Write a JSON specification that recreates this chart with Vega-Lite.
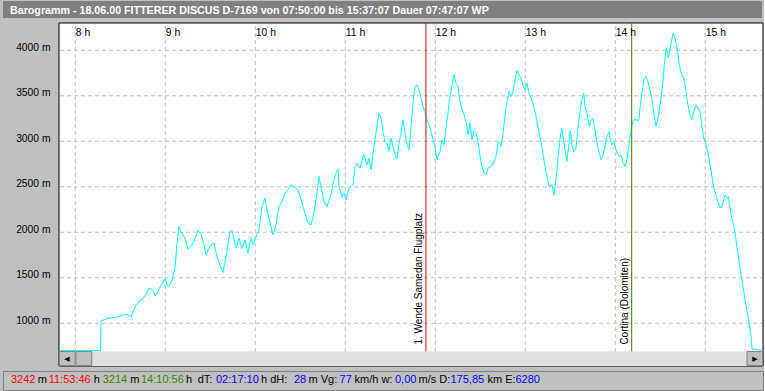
{
  "$schema": "https://vega.github.io/schema/vega-lite/v6.json",
  "padding": {"left": 2, "top": 1, "right": 0, "bottom": 0},
  "spacing": 3,
  "resolve": {"scale": {"color": "independent"}},
  "config": {
    "background": "#c0c0c0",
    "font": "Liberation Sans",
    "view": {"stroke": null}
  },
  "vconcat": [
    {
      "width": 759,
      "height": 17,
      "view": {"fill": "#808080", "stroke": null},
      "data": {"values": [{"title": "Barogramm - 18.06.00 FITTERER DISCUS D-7169 von 07:50:00 bis 15:37:07 Dauer 07:47:07 WP"}]},
      "mark": {"type": "text", "align": "left", "baseline": "middle", "color": "#ffffff", "font": "Liberation Sans", "fontWeight": "bold", "fontSize": 10.7, "dy": 1},
      "encoding": {
        "text": {"field": "title"},
        "x": {"datum": 7, "type": "quantitative", "scale": {"domain": [0, 759], "nice": false, "zero": false}, "axis": null}
      }
    },
    {
      "width": 760,
      "height": 343,
      "view": {"fill": null, "stroke": null},
      "layer": [
        {
          "data": {"values": [{}]},
          "mark": {"type": "rect", "fill": "#ffffff", "stroke": "#000000", "strokeWidth": 1},
          "encoding": {
            "x": {"datum": 7.819, "type": "quantitative", "title": null},
            "x2": {"datum": 15.641},
            "y": {"datum": 530, "type": "quantitative", "title": null},
            "y2": {"datum": 4300}
          }
        },
        {
          "data": {"values": [{"h": 8}, {"h": 9}, {"h": 10}, {"h": 11}, {"h": 12}, {"h": 13}, {"h": 14}, {"h": 15}]},
          "mark": {"type": "rule", "color": "#c0c0c0", "strokeDash": [4, 3], "strokeWidth": 1},
          "encoding": {
            "x": {"field": "h", "type": "quantitative", "title": null},
            "y": {"datum": 530, "type": "quantitative", "title": null},
            "y2": {"datum": 4295}
          }
        },
        {
          "data": {"values": [{"m": 1000}, {"m": 1500}, {"m": 2000}, {"m": 2500}, {"m": 3000}, {"m": 3500}, {"m": 4000}]},
          "mark": {"type": "rule", "color": "#c0c0c0", "strokeDash": [4, 3], "strokeWidth": 1},
          "encoding": {
            "y": {"field": "m", "type": "quantitative", "title": null},
            "x": {"datum": 7.83, "type": "quantitative", "title": null},
            "x2": {"datum": 15.63}
          }
        },
        {
          "data": {"values": [
            {"t": 7.833, "alt": 700}, {"t": 8.280, "alt": 700}, {"t": 8.286, "alt": 1025}, {"t": 8.363, "alt": 1055},
            {"t": 8.463, "alt": 1066}, {"t": 8.563, "alt": 1102}, {"t": 8.619, "alt": 1073}, {"t": 8.674, "alt": 1201},
            {"t": 8.719, "alt": 1249}, {"t": 8.774, "alt": 1300}, {"t": 8.819, "alt": 1385}, {"t": 8.863, "alt": 1366},
            {"t": 8.886, "alt": 1300}, {"t": 8.919, "alt": 1348}, {"t": 8.952, "alt": 1421}, {"t": 8.974, "alt": 1447},
            {"t": 8.997, "alt": 1495}, {"t": 9.019, "alt": 1421}, {"t": 9.041, "alt": 1403}, {"t": 9.074, "alt": 1476},
            {"t": 9.108, "alt": 1605}, {"t": 9.130, "alt": 1880}, {"t": 9.152, "alt": 2063}, {"t": 9.174, "alt": 2008},
            {"t": 9.219, "alt": 1935}, {"t": 9.252, "alt": 1814}, {"t": 9.286, "alt": 1845}, {"t": 9.319, "alt": 1900},
            {"t": 9.363, "alt": 2019}, {"t": 9.397, "alt": 1982}, {"t": 9.430, "alt": 1861}, {"t": 9.452, "alt": 1751},
            {"t": 9.508, "alt": 1861}, {"t": 9.541, "alt": 1880}, {"t": 9.574, "alt": 1733}, {"t": 9.619, "alt": 1605},
            {"t": 9.641, "alt": 1557}, {"t": 9.674, "alt": 1733}, {"t": 9.719, "alt": 2008}, {"t": 9.741, "alt": 2019},
            {"t": 9.786, "alt": 1825}, {"t": 9.819, "alt": 1935}, {"t": 9.852, "alt": 1825}, {"t": 9.886, "alt": 1916},
            {"t": 9.919, "alt": 1770}, {"t": 9.952, "alt": 1935}, {"t": 9.974, "alt": 1861}, {"t": 10.008, "alt": 1953},
            {"t": 10.041, "alt": 2026}, {"t": 10.074, "alt": 2283}, {"t": 10.108, "alt": 2375}, {"t": 10.130, "alt": 2246},
            {"t": 10.174, "alt": 2063}, {"t": 10.197, "alt": 1971}, {"t": 10.230, "alt": 2081}, {"t": 10.263, "alt": 2283},
            {"t": 10.297, "alt": 2338}, {"t": 10.330, "alt": 2430}, {"t": 10.363, "alt": 2466}, {"t": 10.397, "alt": 2521},
            {"t": 10.430, "alt": 2503}, {"t": 10.474, "alt": 2466}, {"t": 10.508, "alt": 2356}, {"t": 10.541, "alt": 2246},
            {"t": 10.585, "alt": 2100}, {"t": 10.619, "alt": 2081}, {"t": 10.652, "alt": 2210}, {"t": 10.685, "alt": 2430},
            {"t": 10.708, "alt": 2613}, {"t": 10.730, "alt": 2500}, {"t": 10.763, "alt": 2338}, {"t": 10.797, "alt": 2283},
            {"t": 10.841, "alt": 2411}, {"t": 10.874, "alt": 2576}, {"t": 10.897, "alt": 2650}, {"t": 10.919, "alt": 2694},
            {"t": 10.930, "alt": 2503}, {"t": 10.963, "alt": 2393}, {"t": 10.985, "alt": 2430}, {"t": 11.008, "alt": 2356},
            {"t": 11.041, "alt": 2485}, {"t": 11.086, "alt": 2521}, {"t": 11.108, "alt": 2723}, {"t": 11.130, "alt": 2760},
            {"t": 11.163, "alt": 2705}, {"t": 11.197, "alt": 2833}, {"t": 11.208, "alt": 2851}, {"t": 11.241, "alt": 2741},
            {"t": 11.263, "alt": 2815}, {"t": 11.286, "alt": 2686}, {"t": 11.308, "alt": 2870}, {"t": 11.330, "alt": 3016},
            {"t": 11.352, "alt": 3163}, {"t": 11.374, "alt": 3310}, {"t": 11.397, "alt": 3255}, {"t": 11.419, "alt": 3108},
            {"t": 11.441, "alt": 2998}, {"t": 11.463, "alt": 2980}, {"t": 11.486, "alt": 2888}, {"t": 11.508, "alt": 3035},
            {"t": 11.530, "alt": 2943}, {"t": 11.552, "alt": 2851}, {"t": 11.574, "alt": 2804}, {"t": 11.597, "alt": 2980},
            {"t": 11.619, "alt": 3090}, {"t": 11.641, "alt": 3236}, {"t": 11.663, "alt": 3090}, {"t": 11.686, "alt": 2961},
            {"t": 11.708, "alt": 2906}, {"t": 11.730, "alt": 3163}, {"t": 11.752, "alt": 3420}, {"t": 11.774, "alt": 3603},
            {"t": 11.797, "alt": 3621}, {"t": 11.819, "alt": 3566}, {"t": 11.841, "alt": 3475}, {"t": 11.863, "alt": 3383},
            {"t": 11.886, "alt": 3328}, {"t": 11.908, "alt": 3236}, {"t": 11.930, "alt": 3181}, {"t": 11.952, "alt": 3110},
            {"t": 11.974, "alt": 3020}, {"t": 11.997, "alt": 2936}, {"t": 12.019, "alt": 2796}, {"t": 12.030, "alt": 2833},
            {"t": 12.052, "alt": 2888}, {"t": 12.074, "alt": 3016}, {"t": 12.096, "alt": 2961}, {"t": 12.119, "alt": 3145},
            {"t": 12.141, "alt": 3310}, {"t": 12.163, "alt": 3493}, {"t": 12.186, "alt": 3621}, {"t": 12.208, "alt": 3731},
            {"t": 12.230, "alt": 3640}, {"t": 12.252, "alt": 3603}, {"t": 12.274, "alt": 3438}, {"t": 12.297, "alt": 3346},
            {"t": 12.319, "alt": 3291}, {"t": 12.341, "alt": 3218}, {"t": 12.363, "alt": 3071}, {"t": 12.386, "alt": 3200},
            {"t": 12.408, "alt": 3016}, {"t": 12.430, "alt": 3119}, {"t": 12.452, "alt": 3097}, {"t": 12.474, "alt": 2998},
            {"t": 12.497, "alt": 2833}, {"t": 12.519, "alt": 2723}, {"t": 12.541, "alt": 2650}, {"t": 12.563, "alt": 2631},
            {"t": 12.586, "alt": 2705}, {"t": 12.619, "alt": 2723}, {"t": 12.652, "alt": 2778}, {"t": 12.674, "alt": 2833},
            {"t": 12.697, "alt": 2998}, {"t": 12.719, "alt": 2980}, {"t": 12.730, "alt": 2943}, {"t": 12.752, "alt": 3090},
            {"t": 12.774, "alt": 3273}, {"t": 12.797, "alt": 3438}, {"t": 12.819, "alt": 3548}, {"t": 12.841, "alt": 3493},
            {"t": 12.863, "alt": 3548}, {"t": 12.886, "alt": 3676}, {"t": 12.908, "alt": 3778}, {"t": 12.930, "alt": 3731},
            {"t": 12.952, "alt": 3695}, {"t": 12.974, "alt": 3621}, {"t": 12.997, "alt": 3566}, {"t": 13.019, "alt": 3640},
            {"t": 13.041, "alt": 3530}, {"t": 13.085, "alt": 3420}, {"t": 13.119, "alt": 3273}, {"t": 13.152, "alt": 3090},
            {"t": 13.174, "alt": 3000}, {"t": 13.197, "alt": 2860}, {"t": 13.219, "alt": 2723}, {"t": 13.241, "alt": 2613},
            {"t": 13.263, "alt": 2503}, {"t": 13.297, "alt": 2521}, {"t": 13.316, "alt": 2411}, {"t": 13.330, "alt": 2503},
            {"t": 13.352, "alt": 2686}, {"t": 13.367, "alt": 2851}, {"t": 13.389, "alt": 3053}, {"t": 13.404, "alt": 3145},
            {"t": 13.416, "alt": 3071}, {"t": 13.441, "alt": 2906}, {"t": 13.463, "alt": 2778}, {"t": 13.489, "alt": 3016},
            {"t": 13.500, "alt": 3119}, {"t": 13.519, "alt": 2961}, {"t": 13.538, "alt": 2888}, {"t": 13.563, "alt": 2925},
            {"t": 13.582, "alt": 3126}, {"t": 13.611, "alt": 3346}, {"t": 13.627, "alt": 3456}, {"t": 13.649, "alt": 3530},
            {"t": 13.663, "alt": 3383}, {"t": 13.686, "alt": 3310}, {"t": 13.711, "alt": 3163}, {"t": 13.730, "alt": 3236},
            {"t": 13.749, "alt": 3255}, {"t": 13.774, "alt": 3126}, {"t": 13.797, "alt": 2980}, {"t": 13.822, "alt": 2870},
            {"t": 13.841, "alt": 2796}, {"t": 13.860, "alt": 2833}, {"t": 13.886, "alt": 2943}, {"t": 13.908, "alt": 3053},
            {"t": 13.933, "alt": 3108}, {"t": 13.944, "alt": 3016}, {"t": 13.963, "alt": 2961}, {"t": 13.982, "alt": 2998},
            {"t": 14.008, "alt": 2906}, {"t": 14.027, "alt": 2851}, {"t": 14.044, "alt": 2833}, {"t": 14.063, "alt": 2850},
            {"t": 14.086, "alt": 2760}, {"t": 14.108, "alt": 2723}, {"t": 14.130, "alt": 2800}, {"t": 14.156, "alt": 3000},
            {"t": 14.174, "alt": 3110}, {"t": 14.197, "alt": 3230}, {"t": 14.219, "alt": 3240}, {"t": 14.241, "alt": 3230},
            {"t": 14.263, "alt": 3236}, {"t": 14.278, "alt": 3400}, {"t": 14.304, "alt": 3585}, {"t": 14.322, "alt": 3695},
            {"t": 14.341, "alt": 3713}, {"t": 14.367, "alt": 3640}, {"t": 14.389, "alt": 3548}, {"t": 14.416, "alt": 3401},
            {"t": 14.433, "alt": 3273}, {"t": 14.452, "alt": 3163}, {"t": 14.478, "alt": 3273}, {"t": 14.500, "alt": 3420},
            {"t": 14.527, "alt": 3621}, {"t": 14.544, "alt": 3841}, {"t": 14.567, "alt": 4025}, {"t": 14.589, "alt": 3915},
            {"t": 14.604, "alt": 3988}, {"t": 14.627, "alt": 4116}, {"t": 14.644, "alt": 4190}, {"t": 14.667, "alt": 4116},
            {"t": 14.693, "alt": 3988}, {"t": 14.711, "alt": 3841}, {"t": 14.738, "alt": 3731}, {"t": 14.760, "alt": 3695},
            {"t": 14.786, "alt": 3548}, {"t": 14.804, "alt": 3420}, {"t": 14.830, "alt": 3291}, {"t": 14.849, "alt": 3236},
            {"t": 14.871, "alt": 3328}, {"t": 14.897, "alt": 3401}, {"t": 14.916, "alt": 3365}, {"t": 14.941, "alt": 3328},
            {"t": 14.960, "alt": 3181}, {"t": 14.982, "alt": 3035}, {"t": 15.008, "alt": 2961}, {"t": 15.027, "alt": 2888},
            {"t": 15.052, "alt": 2741}, {"t": 15.071, "alt": 2631}, {"t": 15.093, "alt": 2485}, {"t": 15.119, "alt": 2411},
            {"t": 15.138, "alt": 2338}, {"t": 15.167, "alt": 2265}, {"t": 15.192, "alt": 2301}, {"t": 15.219, "alt": 2411},
            {"t": 15.241, "alt": 2375}, {"t": 15.256, "alt": 2393}, {"t": 15.286, "alt": 2191}, {"t": 15.322, "alt": 2045},
            {"t": 15.360, "alt": 1788}, {"t": 15.397, "alt": 1531}, {"t": 15.433, "alt": 1311}, {"t": 15.463, "alt": 1128},
            {"t": 15.489, "alt": 1000}, {"t": 15.508, "alt": 853}, {"t": 15.519, "alt": 717}, {"t": 15.619, "alt": 706}
          ]},
          "mark": {"type": "line", "color": "#00ffff", "strokeWidth": 1, "interpolate": "linear"},
          "encoding": {
            "x": {
              "field": "t", "type": "quantitative", "title": null,
              "scale": {"domain": [7.819, 15.641], "nice": false, "zero": false, "rangeMin": 56},
              "axis": {
                "orient": "top", "values": [8, 9, 10, 11, 12, 13, 14, 15],
                "labelExpr": "datum.value + ' h'",
                "ticks": false, "tickSize": 0, "domain": false, "grid": false,
                "labelAlign": "left", "labelBaseline": "alphabetic", "labelPadding": -12,
                "labelFont": "Liberation Sans", "labelFontSize": 10.4, "labelColor": "#000000",
                "labelFlush": false, "labelOverlap": false,
                "minExtent": 2, "maxExtent": 2, "zindex": 2
              }
            },
            "y": {
              "field": "alt", "type": "quantitative", "title": null,
              "scale": {"domain": [530, 4300], "nice": false, "zero": false},
              "axis": {
                "values": [1000, 1500, 2000, 2500, 3000, 3500, 4000],
                "labelExpr": "datum.value + ' m'",
                "offset": -56,
                "ticks": false, "tickSize": 0, "domain": false, "grid": false,
                "labelBaseline": "alphabetic", "labelPadding": 9,
                "labelFont": "Liberation Sans", "labelFontSize": 10.3, "labelColor": "#000000",
                "labelFlush": false, "labelOverlap": false, "zindex": 2
              }
            }
          }
        },
        {
          "data": {"values": [{}]},
          "mark": {"type": "rect", "fill": "#e0e0e0"},
          "encoding": {
            "x": {"datum": 7.819, "type": "quantitative", "title": null},
            "x2": {"datum": 15.641},
            "y": {"datum": 530, "type": "quantitative", "title": null},
            "y2": {"datum": 690}
          }
        },
        {
          "data": {"values": [{"from": 7.825, "to": 7.997, "part": "left button"}, {"from": 8.008, "to": 8.183, "part": "thumb"}, {"from": 15.463, "to": 15.636, "part": "right button"}]},
          "mark": {"type": "rect", "fill": "#c0c0c0", "stroke": "#808080", "strokeWidth": 1},
          "encoding": {
            "x": {"field": "from", "type": "quantitative", "title": null},
            "x2": {"field": "to"},
            "y": {"datum": 535, "type": "quantitative", "title": null},
            "y2": {"datum": 690}
          }
        },
        {
          "data": {"values": [{"at": 7.908, "arrow": "◀"}, {"at": 15.552, "arrow": "▶"}]},
          "mark": {"type": "text", "font": "DejaVu Sans", "fontSize": 7, "color": "#000000", "baseline": "middle", "align": "center"},
          "encoding": {
            "x": {"field": "at", "type": "quantitative", "title": null},
            "y": {"datum": 610, "type": "quantitative", "title": null},
            "text": {"field": "arrow"}
          }
        },
        {
          "data": {"values": [{"t": 11.896, "name": "1. Wende Samedan Flugplatz", "kind": "Wende"}, {"t": 14.182, "name": "Cortina (Dolomiten)", "kind": "Ziel"}]},
          "layer": [
            {
              "mark": {"type": "rule", "strokeWidth": 1},
              "encoding": {
                "x": {"field": "t", "type": "quantitative", "title": null},
                "y": {"datum": 690, "type": "quantitative", "title": null},
                "y2": {"datum": 4300},
                "color": {"field": "kind", "type": "nominal", "scale": {"domain": ["Wende", "Ziel"], "range": ["#dd0000", "#408000"]}, "legend": null}
              }
            },
            {
              "mark": {"type": "text", "angle": 270, "align": "left", "baseline": "alphabetic", "dy": -4, "font": "Liberation Sans", "fontSize": 10, "color": "#000000"},
              "encoding": {
                "x": {"field": "t", "type": "quantitative", "title": null},
                "y": {"datum": 765, "type": "quantitative", "title": null},
                "text": {"field": "name"}
              }
            }
          ]
        }
      ]
    },
    {
      "width": 760,
      "height": 19,
      "view": {"fill": "#c0c0c0", "stroke": "#808080", "strokeWidth": 1},
      "data": {"values": [
        {"s": "3242", "k": "r", "p": 8},
        {"s": "m", "k": "k", "p": 34.7},
        {"s": "11:53:46", "k": "r", "p": 45.7},
        {"s": "h", "k": "k", "p": 90.7},
        {"s": "3214", "k": "g", "p": 99.7},
        {"s": "m", "k": "k", "p": 127.3},
        {"s": "14:10:56", "k": "g", "p": 138},
        {"s": "h", "k": "k", "p": 183},
        {"s": "dT:", "k": "k", "p": 194.7},
        {"s": "02:17:10", "k": "b", "p": 213},
        {"s": "h dH:", "k": "k", "p": 258},
        {"s": "28", "k": "b", "p": 291},
        {"s": "m Vg:", "k": "k", "p": 305.5},
        {"s": "77", "k": "b", "p": 336.6},
        {"s": "km/h w:", "k": "k", "p": 351.5},
        {"s": "0,00", "k": "b", "p": 392},
        {"s": "m/s D:", "k": "k", "p": 415.5},
        {"s": "175,85", "k": "b", "p": 447.5},
        {"s": "km E:", "k": "k", "p": 484.5},
        {"s": "6280", "k": "b", "p": 512.5}
      ]},
      "mark": {"type": "text", "align": "left", "baseline": "middle", "font": "Liberation Sans", "fontSize": 11, "dy": -1},
      "encoding": {
        "x": {"field": "p", "type": "quantitative", "scale": {"domain": [0, 760], "nice": false, "zero": false}, "axis": null},
        "text": {"field": "s"},
        "color": {"field": "k", "type": "nominal", "scale": {"domain": ["k", "r", "g", "b"], "range": ["#000000", "#ff0000", "#408000", "#0000ff"]}, "legend": null}
      }
    }
  ]
}
